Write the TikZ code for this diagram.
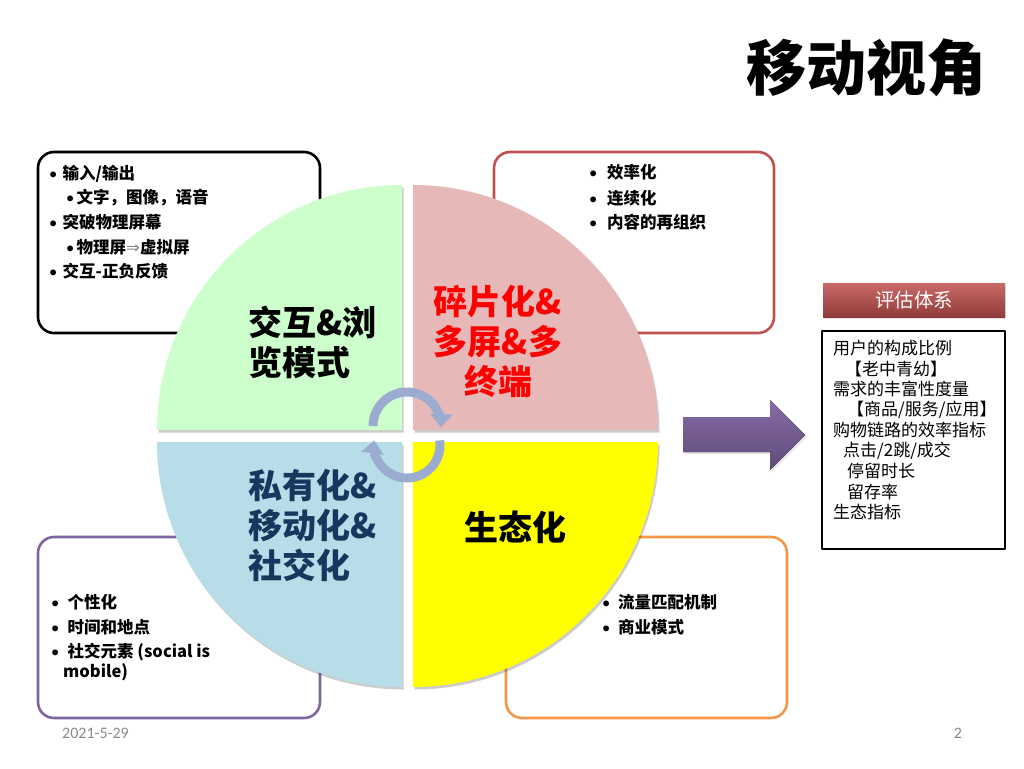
\documentclass[tikz,border=0pt]{standalone}
\usepackage{fontspec}
\setmainfont{Noto Sans CJK SC}
\newfontfamily\carlito{Carlito}
\newfontfamily\dejavu{DejaVu Sans}
\usetikzlibrary{arrows.meta,shadows}

\definecolor{qgreen}{HTML}{CCFFCC}
\definecolor{qpink}{HTML}{E6B9B8}
\definecolor{qblue}{HTML}{B7DEE8}
\definecolor{qyellow}{HTML}{FFFF00}
\definecolor{boxred}{HTML}{C0504D}
\definecolor{boxpurple}{HTML}{8064A2}
\definecolor{boxorange}{HTML}{F79646}
\definecolor{titleblue}{HTML}{17375E}
\definecolor{arcblue}{HTML}{9CACD0}
\definecolor{footgray}{HTML}{8A8A8A}

\newcommand{\bul}[1]{\makebox[#1][l]{\carlito\mdseries •}}

\tikzset{
  note/.style={rounded corners=16pt, line width=2.6pt},
  item/.style={anchor=west, inner sep=0pt, font=\fontsize{16.5}{20}\selectfont\bfseries},
  plain/.style={anchor=west, inner sep=0pt, font=\fontsize{17}{20}\selectfont},
  quad/.style={drop shadow={shadow xshift=1.5pt, shadow yshift=-2.5pt, opacity=0.2, fill=black}},
  big/.style={inner sep=0pt, font=\fontsize{34}{40}\selectfont\bfseries},
  turn/.style={line width=9pt, draw=arcblue, -{Triangle[width=22pt,length=13pt]}},
}

\begin{document}
\begin{tikzpicture}[x=1pt,y=-1pt,line join=round]
  \useasboundingbox (0,0) rectangle (1024,768);
  % title
  \node[inner sep=0pt, font=\fontsize{60}{60}\selectfont\bfseries] (title) at (866,68) {移动视角};

  % note boxes behind the circle
  \draw[note, draw=black] (38,152) rectangle (320,333);
  \draw[note, draw=boxred] (494,152) rectangle (774,333);
  \draw[note, draw=boxpurple] (38,537) rectangle (320,718);
  \draw[note, draw=boxorange] (506,537) rectangle (787,718);

  % four quarters
  \fill[qgreen, quad] (402,430) -- ++(-245,0) arc[start angle=180, end angle=270, radius=245] -- cycle;
  \fill[qpink, quad] (413,430) -- ++(0,-245) arc[start angle=270, end angle=360, radius=245] -- cycle;
  \fill[qblue, quad] (402,442) -- ++(0,245) arc[start angle=90, end angle=180, radius=245] -- cycle;
  \fill[qyellow, quad] (413,442) -- ++(245,0) arc[start angle=0, end angle=90, radius=245] -- cycle;

  % quarter titles
  \node[big, align=left, anchor=west] (inter) at (248,342) {交互\&浏\\览模式};
  \node[big, align=center, text=red] (frag) at (498,342) {碎片化\&\\多屏\&多\\终端};
  \node[big, align=left, anchor=west, text=titleblue] (priv) at (248,525) {私有化\&\\移动化\&\\社交化};
  \node[big] (eco) at (515,527) {生态化};

  % turning arrows
  \coordinate (hubup) at (407,426);
  \coordinate (hubdown) at (407,445);
  \draw[turn] (hubup) ++(180:34) arc[start angle=180, end angle=362, radius=34];
  \draw[turn] (hubdown) ++(-8:33) arc[start angle=-8, end angle=188, radius=33];

  % top left notes
  \node[item] (in1) at (49,174) {\bul{13.5pt}输入/输出};
  \node[item] (in2) at (66,198) {\bul{10.5pt}文字，图像，语音};
  \node[item] (in3) at (49,222) {\bul{13.5pt}突破物理屏幕};
  \node[item] (in4) at (66,247) {\bul{10.5pt}物理屏{\color{gray}\dejavu\mdseries ⇒}虚拟屏};
  \node[item] (in5) at (49,271) {\bul{13.5pt}交互-正负反馈};

  % top right notes
  \node[item] (fr1) at (589,172) {\bul{18pt}效率化};
  \node[item] (fr2) at (589,198) {\bul{18pt}连续化};
  \node[item] (fr3) at (589,222) {\bul{18pt}内容的再组织};

  % bottom left notes
  \node[item] (pr1) at (51,602) {\bul{16.5pt}个性化};
  \node[item] (pr2) at (51,627) {\bul{16.5pt}时间和地点};
  \node[item] (pr3) at (51,652) {\bul{16.5pt}社交元素 (social is};
  \node[item] (pr4) at (63,672) {mobile)};

  % bottom right notes
  \node[item] (ec1) at (602,602) {\bul{16pt}流量匹配机制};
  \node[item] (ec2) at (602,627) {\bul{16pt}商业模式};

  % big arrow
  \fill[top color=boxpurple!95!white, bottom color=boxpurple!75!black, drop shadow={shadow xshift=1.5pt, shadow yshift=-2pt, opacity=0.2}]
    (683,417) -- (770,417) -- (770,400) -- (805,435) -- (770,470) -- (770,452) -- (683,452) -- cycle;

  % evaluation panel
  \node[minimum width=182pt, minimum height=34pt, inner sep=0pt, top color=boxred!85!white, bottom color=boxred!75!black,
        text=white, font=\fontsize{19.5}{20}\selectfont, drop shadow={shadow xshift=1pt, shadow yshift=-2pt, opacity=0.25}] (evalhead) at (914,300) {评估体系};
  \draw[line width=2.6pt] (822,331) rectangle (1005,549);
  \node[plain] (u1) at (833,348) {用户的构成比例};
  \node[plain] (u2) at (845,369) {【老中青幼】};
  \node[plain] (u3) at (833,389) {需求的丰富性度量};
  \node[plain] (u4) at (847,410) {【商品/服务/应用】};
  \node[plain] (u5) at (833,430) {购物链路的效率指标};
  \node[plain] (u6) at (843,451) {点击/2跳/成交};
  \node[plain] (u7) at (847,471) {停留时长};
  \node[plain] (u8) at (847,492) {留存率};
  \node[plain] (u9) at (833,512) {生态指标};

  % footer
  \node[anchor=west, inner sep=0pt, text=footgray, font=\carlito\fontsize{16}{16}\selectfont] (date) at (62,733) {2021-5-29};
  \node[inner sep=0pt, text=footgray, font=\carlito\fontsize{16}{16}\selectfont] (page) at (958,733) {2};
\end{tikzpicture}
\end{document}
